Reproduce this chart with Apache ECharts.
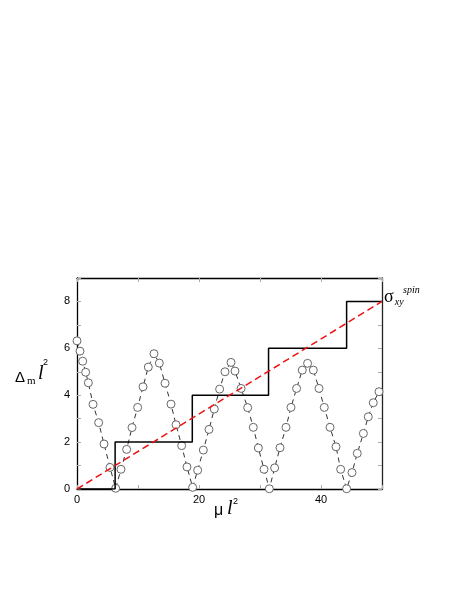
<!DOCTYPE html>
<html>
<head>
<meta charset="utf-8">
<script src="https://cdn.jsdelivr.net/npm/echarts@6/dist/echarts.min.js"></script>
<style>html,body{margin:0;padding:0;background:#fff}#c{width:463px;height:599px}</style>
</head>
<body>
<div id="c"></div>
<script>
const muValues = [0, 0.49, 0.93, 1.42, 1.86, 2.63, 3.55, 4.43, 5.41, 6.34, 7.21, 8.14, 9.02, 9.94, 10.82, 11.69, 12.62, 13.5, 14.43, 15.41, 16.23, 17.16, 18.03, 18.96, 19.78, 20.71, 21.64, 22.51, 23.38, 24.26, 25.25, 25.9, 26.9, 27.98, 28.9, 29.73, 30.66, 31.53, 32.4, 33.28, 34.26, 35.08, 36.0, 36.93, 37.8, 38.74, 39.67, 40.54, 41.48, 42.46, 43.22, 44.2, 45.08, 45.95, 46.95, 47.75, 48.57, 49.51];
const gapValues = [6.32, 5.88, 5.45, 4.98, 4.53, 3.61, 2.83, 1.92, 0.92, 0.03, 0.84, 1.69, 2.62, 3.48, 4.36, 5.2, 5.77, 5.37, 4.51, 3.62, 2.74, 1.85, 0.94, 0.07, 0.8, 1.66, 2.54, 3.41, 4.26, 5.0, 5.4, 5.03, 4.29, 3.47, 2.63, 1.75, 0.84, 0.01, 0.9, 1.76, 2.63, 3.48, 4.29, 5.07, 5.36, 5.07, 4.29, 3.48, 2.63, 1.8, 0.84, 0.01, 0.7, 1.52, 2.37, 3.08, 3.68, 4.15];
const stepX = [0, 6.25, 18.9, 31.4, 44.2, 50];
const stepY = [0, 2, 4, 6, 8, 8];
const lineX = [0, 50];
const lineY = [0, 8];
const xTickLabels = [0, 20, 40];
const yTickLabels = [0, 2, 4, 6, 8];

const zip = (a, b) => a.map((v, i) => [v, b[i]]);
const chart = echarts.init(document.getElementById('c'));
const tickStyle = {color: '#aaa', width: 1};
chart.setOption({
  animation: false,
  grid: {left: 77, right: 81, top: 278, bottom: 110, containLabel: false},
  xAxis: [{
    type: 'value', min: 0, max: 50, interval: 10,
    axisLine: {onZero: false, lineStyle: {color: '#000', width: 1.3}},
    axisTick: {inside: true, length: 4, lineStyle: tickStyle},
    splitLine: {show: false},
    axisLabel: {color: '#000', fontFamily: 'Liberation Sans', fontSize: 11, margin: 5,
      formatter: v => xTickLabels.includes(v) ? String(v) : ''}
  }, {
    type: 'value', min: 0, max: 50, interval: 10, position: 'top',
    axisLine: {show: true, onZero: false, lineStyle: {color: '#000', width: 1.3}},
    axisTick: {show: true, inside: true, length: 4, lineStyle: tickStyle},
    splitLine: {show: false}, axisLabel: {show: false}
  }],
  yAxis: [{
    type: 'value', min: 0, max: 9, interval: 1,
    axisLine: {show: true, onZero: false, lineStyle: {color: '#000', width: 1.3}},
    axisTick: {show: true, inside: true, length: 4, lineStyle: tickStyle},
    splitLine: {show: false},
    axisLabel: {color: '#000', fontFamily: 'Liberation Sans', fontSize: 11, margin: 7,
      formatter: v => yTickLabels.includes(v) ? String(v) : ''}
  }, {
    type: 'value', min: 0, max: 9, interval: 1, position: 'right',
    axisLine: {show: true, onZero: false, lineStyle: {color: '#222', width: 1.3}},
    axisTick: {show: true, inside: true, length: 4, lineStyle: tickStyle},
    splitLine: {show: false}, axisLabel: {show: false}
  }],
  series: [{
    type: 'line', data: zip(stepX, stepY), step: 'end', symbol: 'none',
    lineStyle: {color: '#000', width: 1.5}, z: 3
  }, {
    type: 'line', data: zip(lineX, lineY), symbol: 'none',
    lineStyle: {color: '#ee1111', width: 1.5, type: [7, 4]}, z: 4
  }, {
    type: 'line', data: zip(muValues, gapValues), symbol: 'circle', symbolSize: 8,
    itemStyle: {color: '#fff', borderColor: '#666', borderWidth: 1},
    lineStyle: {color: '#333', width: 1, type: [5, 4]}, z: 2
  }],
  graphic: [{
    type: 'text', left: 384, top: 288,
    style: {
      text: '{s|σ}{sub|xy}',
      rich: {
        s: {fontFamily: 'Liberation Serif', fontSize: 18, fill: '#000'},
        sub: {fontFamily: 'Liberation Serif', fontStyle: 'italic', fontSize: 10, fill: '#000', padding: [10, 0, 0, 1]}
      }
    }
  }, {
    type: 'text', left: 403, top: 285,
    style: {text: 'spin', fontFamily: 'Liberation Serif', fontStyle: 'italic', fontSize: 10, fill: '#000'}
  }, {
    type: 'text', left: 15, top: 370,
    style: {text: 'Δ', fontFamily: 'Liberation Sans', fontSize: 15, fill: '#000'}
  }, {
    type: 'text', left: 27, top: 376,
    style: {text: 'm', fontFamily: 'Liberation Serif', fontSize: 11, fill: '#000'}
  }, {
    type: 'text', left: 38, top: 364,
    style: {text: 'l', fontFamily: 'Liberation Serif', fontStyle: 'italic', fontSize: 20, fill: '#000'}
  }, {
    type: 'text', left: 43, top: 358,
    style: {text: '2', fontFamily: 'Liberation Sans', fontSize: 9, fill: '#000'}
  }, {
    type: 'text', left: 214, top: 503,
    style: {text: 'μ', fontFamily: 'Liberation Sans', fontSize: 16, fill: '#000'}
  }, {
    type: 'text', left: 227, top: 499,
    style: {text: 'l', fontFamily: 'Liberation Serif', fontStyle: 'italic', fontSize: 20, fill: '#000'}
  }, {
    type: 'text', left: 233, top: 497,
    style: {text: '2', fontFamily: 'Liberation Sans', fontSize: 9, fill: '#000'}
  }]
});
</script>
</body>
</html>
